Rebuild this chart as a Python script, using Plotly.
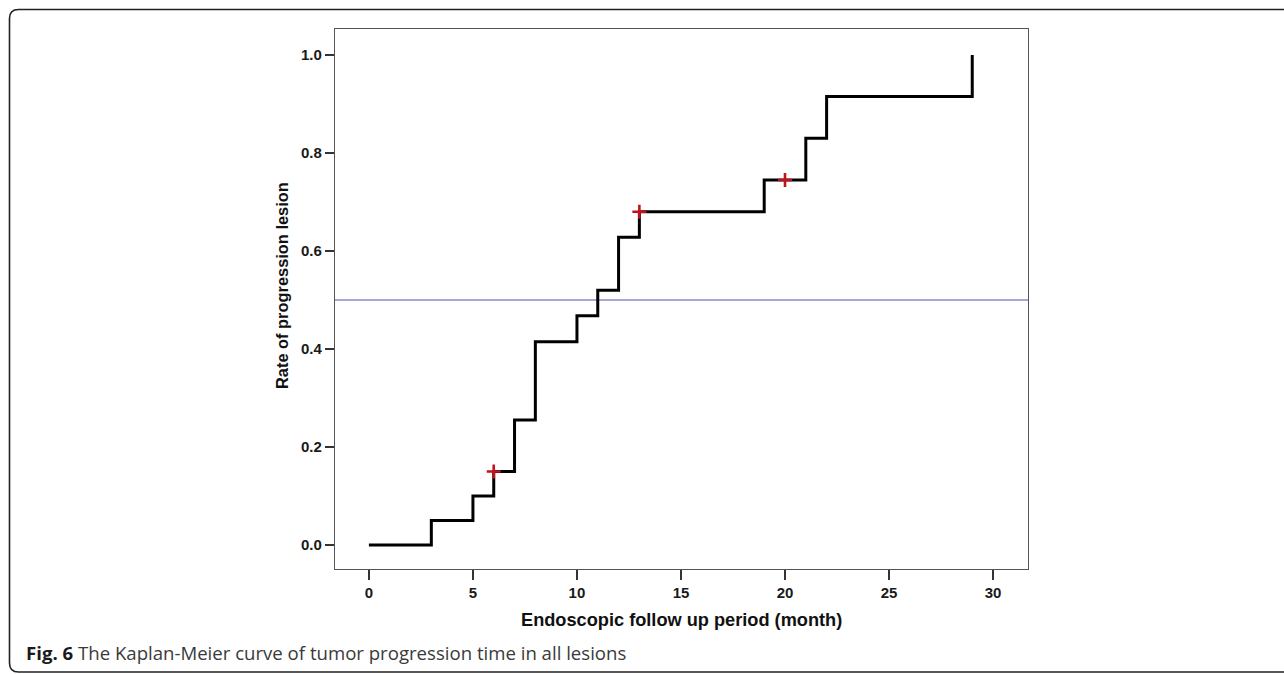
import plotly.graph_objects as go

# Data
step_months = [0, 3, 5, 6, 7, 8, 10, 11, 12, 13, 19, 21, 22, 29]
step_rates = [0.0, 0.05, 0.10, 0.15, 0.255, 0.415, 0.468, 0.52, 0.628, 0.68, 0.745, 0.83, 0.915, 1.0]
censor_months = [6, 13, 20]
censor_rates = [0.15, 0.68, 0.745]
ref_level = 0.5
x_ticks = [0, 5, 10, 15, 20, 25, 30]
y_ticks = [0.0, 0.2, 0.4, 0.6, 0.8, 1.0]

W, H = 1284, 674
L, R, T, B = 335, 256, 29, 105
pw, ph = W - L - R, H - T - B

def px(x):
    return (x - L) / pw

def py(y):
    return (H - B - y) / ph

fig = go.Figure()

fig.add_trace(go.Scatter(
    x=[-1.63, 31.68], y=[ref_level, ref_level], mode="lines",
    line=dict(color="#8a8ac8", width=1.6), hoverinfo="skip", showlegend=False))

fig.add_trace(go.Scatter(
    x=step_months, y=step_rates, mode="lines",
    line=dict(color="#000000", width=3, shape="hv"), showlegend=False))

fig.add_trace(go.Scatter(
    x=censor_months, y=censor_rates, mode="markers",
    marker=dict(symbol="cross-thin", size=10, line=dict(color="#c0141c", width=2.6)),
    showlegend=False))

axis_font = dict(family="Liberation Sans, Arial, sans-serif", size=15, color="#1a1a1a")

fig.update_xaxes(
    range=[-1.63, 31.68], tickvals=x_ticks, ticktext=[f"<b>{v}</b>" for v in x_ticks],
    ticks="outside", ticklen=10, tickwidth=1.5, tickcolor="#333",
    showline=True, linecolor="#555", linewidth=1.3, mirror=True,
    showgrid=False, zeroline=False, tickfont=axis_font)
fig.update_yaxes(
    range=[-0.049, 1.053], tickvals=y_ticks, ticktext=[f"<b>{v:.1f}</b>" for v in y_ticks],
    ticks="outside", ticklen=9, tickwidth=1.5, tickcolor="#333",
    showline=True, linecolor="#555", linewidth=1.3, mirror=True,
    showgrid=False, zeroline=False, tickfont=axis_font)

annotations = [
    dict(x=px(681), y=py(620), xref="paper", yref="paper", showarrow=False,
         text="<b>Endoscopic follow up period (month)</b>",
         font=dict(family="Liberation Sans, Arial, sans-serif", size=18.2, color="#111"),
         xanchor="center", yanchor="middle"),
    dict(x=px(282), y=py(286), xref="paper", yref="paper", showarrow=False,
         text="<b>Rate of progression lesion</b>",
         font=dict(family="Liberation Sans, Arial, sans-serif", size=16.4, color="#111"),
         textangle=-90, xanchor="center", yanchor="middle"),
    dict(x=px(24), y=py(653), xref="paper", yref="paper", showarrow=False,
         text="<b>Fig. 6</b> <span style='color:#3a3a3a'>The Kaplan-Meier curve of tumor progression time in all lesions</span>",
         font=dict(family="Open Sans, sans-serif", size=18.6, color="#1a1a1a"),
         xanchor="left", yanchor="middle"),
]

# Outer rounded frame
x0, x1, y0, y1, r = 9.5, 1300, 9.5, 672, 9
path = (f"M {px(x1)} {py(y0)} L {px(x0 + r)} {py(y0)} "
        f"Q {px(x0)} {py(y0)} {px(x0)} {py(y0 + r)} "
        f"L {px(x0)} {py(y1 - r)} "
        f"Q {px(x0)} {py(y1)} {px(x0 + r)} {py(y1)} L {px(x1)} {py(y1)}")
shapes = [dict(type="path", xref="paper", yref="paper", path=path,
               line=dict(color="#222", width=1.6))]

fig.update_layout(
    width=W, height=H, margin=dict(l=L, r=R, t=T, b=B),
    paper_bgcolor="white", plot_bgcolor="white",
    annotations=annotations, shapes=shapes, showlegend=False)

fig.write_html("out.html", config={"displayModeBar": False},
               post_script="document.body.style.margin='0';document.body.style.overflow='hidden';")
